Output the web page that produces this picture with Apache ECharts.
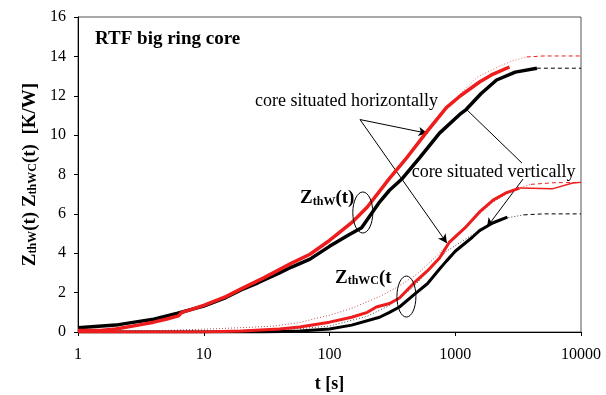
<!DOCTYPE html>
<html>
<head>
<meta charset="utf-8">
<script src="https://cdn.jsdelivr.net/npm/echarts@6/dist/echarts.min.js"></script>
<style>
  html, body { margin: 0; padding: 0; background: #fff; }
  #chart { width: 606px; height: 395px; }
</style>
</head>
<body>
<div id="chart"></div>
<script>
// Thermal impedance of the RTF big ring core, [t (s), Z (K/W)] pairs.
const xTickLabels = ['1', '10', '100', '1000', '10000'];
const yTickValues = [0, 2, 4, 6, 8, 10, 12, 14, 16];

// Z_thW(t), core lying horizontally (measured)
const zthwHorizontal = [
  [1, 0.08], [1.5, 0.08], [2, 0.15], [3, 0.35], [4, 0.5], [5, 0.65], [6.3, 0.82], [6.7, 1.0],
  [8, 1.15], [10, 1.35], [15, 1.8], [20, 2.2], [30, 2.75], [50, 3.5], [70, 3.95], [100, 4.65],
  [150, 5.55], [200, 6.35], [300, 7.8], [400, 8.75], [600, 10.2], [850, 11.4], [1100, 12.0],
  [1560, 12.7], [2000, 13.1], [2700, 13.46]
];
// Z_thW(t), core standing vertically (measured)
const zthwVertical = [
  [1, 0.22], [2, 0.35], [2.5, 0.45], [4, 0.65], [6.2, 0.95], [8, 1.15], [10, 1.32], [15, 1.75],
  [20, 2.15], [27, 2.5], [40, 3.0], [50, 3.3], [70, 3.7], [100, 4.35], [144, 4.95], [180, 5.3],
  [250, 6.6], [300, 7.2], [380, 7.8], [520, 8.84], [750, 10.1], [1085, 11.05], [1220, 11.3],
  [1600, 12.1], [2130, 12.8], [3000, 13.2], [4460, 13.4]
];
// Z_thWC(t), horizontal (measured)
const zthwcHorizontal = [
  [1, 0.0], [10, 0.0], [20, 0.05], [40, 0.15], [58, 0.25], [100, 0.5], [150, 0.75], [200, 1.0],
  [236, 1.27], [300, 1.45], [360, 1.73], [470, 2.49], [600, 3.1], [750, 3.76], [900, 4.57],
  [1200, 5.3], [1560, 6.1], [2000, 6.7], [2500, 7.05], [3240, 7.31]
];
const zthwcHorizontalTail = [[3240, 7.31], [4000, 7.3], [5900, 7.27], [8600, 7.57], [10000, 7.6]];
// Z_thWC(t), vertical (measured)
const zthwcVertical = [
  [1, 0.0], [30, 0.0], [58, 0.05], [100, 0.15], [150, 0.35], [250, 0.75], [300, 1.0], [360, 1.27],
  [470, 1.9], [600, 2.45], [750, 3.2], [850, 3.6], [1000, 4.1], [1360, 4.8], [1560, 5.15],
  [2000, 5.55], [2600, 5.84]
];

// Fitted model curves
const fitZthwHorizontalDotted = [[900, 11.55], [1200, 12.35], [1500, 12.95], [2250, 13.5], [2850, 13.78], [3700, 13.97]];
const fitZthwHorizontalDashed = [[3700, 13.97], [5000, 14.02], [10000, 14.02]];
const fitZthwVerticalDashed = [[4460, 13.4], [10000, 13.4]];
const fitZthwcHorizontalDotted = [
  [1, 0.05], [5, 0.08], [13, 0.17], [20, 0.22], [36, 0.3], [58, 0.48], [79, 0.7], [100, 0.85],
  [150, 1.2], [250, 1.8], [340, 2.25], [500, 2.95], [750, 4.0], [1000, 4.9], [1500, 5.9],
  [2000, 6.6], [3000, 7.25], [4000, 7.5]
];
const fitZthwcHorizontalDashed = [[4000, 7.5], [6000, 7.58], [10000, 7.6]];
const fitZthwcVerticalDotted = [
  [1, 0.03], [10, 0.06], [30, 0.1], [60, 0.18], [100, 0.3], [200, 0.8], [300, 1.35], [450, 2.2],
  [590, 3.0], [850, 4.1], [1360, 4.93], [1880, 5.43], [2600, 5.8], [3500, 5.95]
];
const fitZthwcVerticalDashed = [[3500, 5.95], [5000, 6.0], [10000, 6.0]];

// Callout anchors in data coordinates [t, Z]
const titleAnchor = [1.365, 14.9];
const horizontalTextAnchor = [25.6, 11.73];
const verticalTextAnchor = [450, 8.1];
const zthwLabelAnchor = [58.3, 6.86];
const zthwcLabelAnchor = [110.6, 2.83];
const zthwEllipseCenter = [184, 6.07];
const zthwcEllipseCenter = [409, 1.8];
const horizontalPointerStart = [174.8, 10.79];
const horizontalPointerEnds = [[601, 10.09], [859, 4.51]];
const verticalPointers = [
  { from: [3395, 8.58], to: [1240, 11.28], head: 'none' },
  { from: [3459, 7.77], to: [1788, 5.33], head: 'arrow' }
];

const SERIF = '"Liberation Serif", "Times New Roman", serif';
const RED = '#ee1c1c';

const chart = echarts.init(document.getElementById('chart'), null, { renderer: 'canvas' });

function lineSeries(name, data, color, width, dash, z) {
  return {
    name, type: 'line', data, showSymbol: false, symbol: 'none', smooth: false,
    lineStyle: { color, width, type: dash || 'solid' }, z: z || 2, silent: true
  };
}

const pointerLines = horizontalPointerEnds.map(end => [
  { coord: horizontalPointerStart, symbol: 'none' },
  { coord: end, symbol: 'arrow' }
]).concat(verticalPointers.map(p => [
  { coord: p.from, symbol: 'none' },
  { coord: p.to, symbol: p.head }
]));

const subRich = {
  m: { fontFamily: SERIF, fontWeight: 'bold', fontSize: 19, lineHeight: 22, verticalAlign: 'bottom', color: '#000' },
  s: { fontFamily: SERIF, fontWeight: 'bold', fontSize: 12, lineHeight: 12, verticalAlign: 'bottom', color: '#000' }
};

const fitDark = lineSeries('fit WC vertical', fitZthwcVerticalDotted, '#444', 1, [1, 2], 3);
fitDark.markLine = {
  silent: true, animation: false, symbolSize: [7, 9],
  label: { show: false },
  lineStyle: { color: '#000', width: 1, type: 'solid' },
  data: pointerLines
};

chart.setOption({
  animation: false,
  backgroundColor: '#fff',
  grid: {
    left: 78, right: 25, top: 17, bottom: 63, show: true, borderColor: '#555', borderWidth: 1,
    containLabel: false, outerBoundsMode: 'none'
  },
  xAxis: {
    type: 'log', logBase: 10, min: 1, max: 10000,
    name: 't [s]', nameLocation: 'middle', nameGap: 43,
    nameTextStyle: { fontFamily: SERIF, fontWeight: 'bold', fontSize: 18, color: '#000' },
    axisLine: { show: true, lineStyle: { color: '#000', width: 1 } },
    axisTick: { show: true, inside: false, length: 4, lineStyle: { color: '#000' } },
    axisLabel: {
      fontFamily: SERIF, fontSize: 16, color: '#000', margin: 15,
      formatter: v => xTickLabels[Math.round(Math.log10(v))]
    },
    splitLine: { show: false }, minorTick: { show: false }
  },
  yAxis: {
    type: 'value', min: yTickValues[0], max: yTickValues[yTickValues.length - 1], interval: 2,
    name: '{m|Z}{s|thW}{m|(t) Z}{s|thWC}{m|(t)  [K/W]}', nameLocation: 'middle', nameGap: 38,
    nameTextStyle: { rich: subRich, fontFamily: SERIF, fontWeight: 'bold', fontSize: 19, color: '#000' },
    axisLine: { show: true, lineStyle: { color: '#000', width: 1 } },
    axisTick: { show: true, inside: false, length: 4, lineStyle: { color: '#000' } },
    axisLabel: { fontFamily: SERIF, fontSize: 16, color: '#000', margin: 12 },
    splitLine: { show: false }
  },
  series: [
    fitDark,
    lineSeries('fit W horizontal dotted', fitZthwHorizontalDotted, '#f07070', 1, [1, 2], 3),
    lineSeries('fit W horizontal dashed', fitZthwHorizontalDashed, RED, 1, [4, 3], 3),
    lineSeries('fit W vertical dashed', fitZthwVerticalDashed, '#000', 1, [4, 3], 3),
    lineSeries('fit WC horizontal dotted', fitZthwcHorizontalDotted, '#c05050', 1, [1, 2], 3),
    lineSeries('fit WC horizontal dashed', fitZthwcHorizontalDashed, RED, 1, [4, 3], 3),
    lineSeries('fit WC vertical dashed', fitZthwcVerticalDashed, '#000', 1, [4, 3], 3),
    lineSeries('ZthWC horizontal tail', zthwcHorizontalTail, RED, 1.5, 'solid', 4),
    lineSeries('ZthWC vertical', zthwcVertical, '#000', 3, 'solid', 5),
    lineSeries('ZthWC horizontal', zthwcHorizontal, RED, 3, 'solid', 5),
    lineSeries('ZthW vertical', zthwVertical, '#000', 3.5, 'solid', 5),
    lineSeries('ZthW horizontal', zthwHorizontal, RED, 3.5, 'solid', 6)
  ]
});

// Callout texts and ellipses placed from data coordinates
function px(p) { return chart.convertToPixel({ gridIndex: 0 }, p); }
function textAt(anchor, text, font, rich) {
  const p = px(anchor);
  const style = { text, x: p[0], y: p[1], fill: '#000', font, align: 'left', verticalAlign: 'middle' };
  if (rich) style.rich = rich;
  return { type: 'text', z: 100, silent: true, style };
}
function ellipseAt(center, rx, ry) {
  const p = px(center);
  return { type: 'ellipse', z: 100, silent: true, shape: { cx: p[0], cy: p[1], rx, ry },
    style: { fill: 'none', stroke: '#000', lineWidth: 1 } };
}

chart.setOption({
  graphic: [
    textAt(titleAnchor, 'RTF big ring core', 'bold 19px ' + SERIF),
    textAt(horizontalTextAnchor, 'core situated horizontally', '18px ' + SERIF),
    textAt(verticalTextAnchor, 'core situated vertically', '18px ' + SERIF),
    textAt(zthwLabelAnchor, '{m|Z}{s|thW}{m|(t)}', 'bold 19px ' + SERIF, subRich),
    textAt(zthwcLabelAnchor, '{m|Z}{s|thWC}{m|(t}', 'bold 19px ' + SERIF, subRich),
    ellipseAt(zthwEllipseCenter, 10, 20.5),
    ellipseAt(zthwcEllipseCenter, 9.5, 20.5)
  ]
});
</script>
</body>
</html>
